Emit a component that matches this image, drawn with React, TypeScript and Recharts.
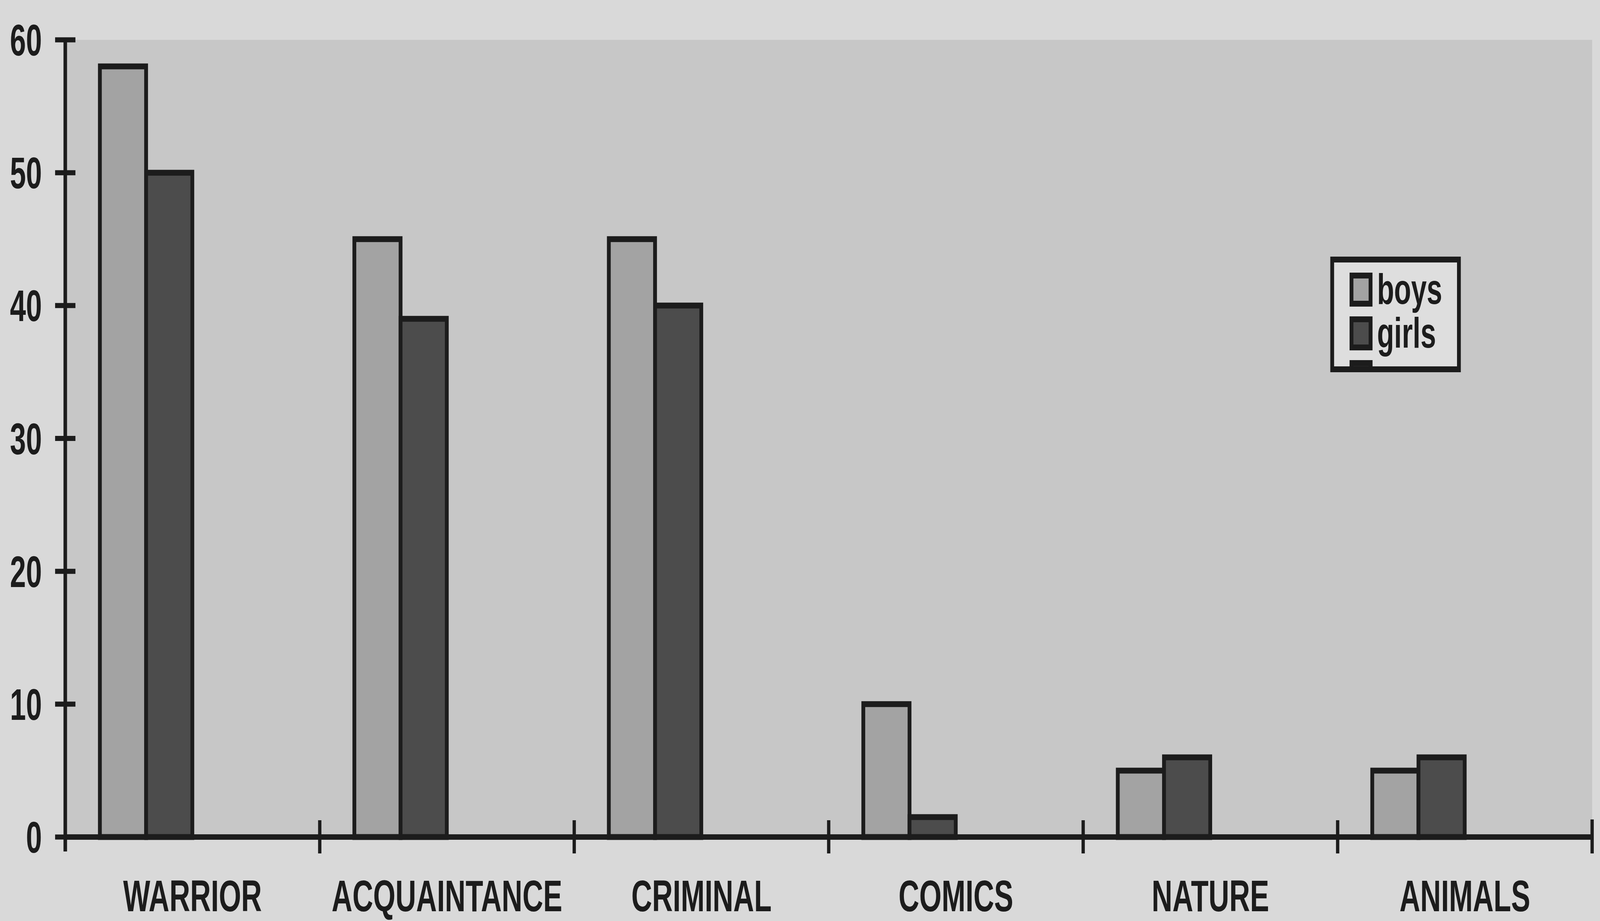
import { BarChart, Bar, XAxis, YAxis, CartesianGrid, Legend } from "recharts"

// values
const categories = ["WARRIOR", "ACQUAINTANCE", "CRIMINAL", "COMICS", "NATURE", "ANIMALS"]
const boys = [58, 45, 45, 10, 5, 5]
const girls = [50, 39, 40, 1.5, 6, 6]
// the original had two more (empty) series slots, which is why the bars sit left in each group
const series3 = [null, null, null, null, null, null]
const series4 = [null, null, null, null, null, null]
const yTicks = [0, 10, 20, 30, 40, 50, 60]

const legendNames = ["boys", "girls", ""]
const legendFills = ["#a3a3a3", "#4c4c4c", "#2a2a2a"]

const data = categories.map((name, i) => ({
 name,
 boys: boys[i],
 girls: girls[i],
 s3: series3[i],
 s4: series4[i]
}))

const W = 6300
const H = 2358
const INK = "#1c1c1c"
const FONT = "'Liberation Sans', Arial, Helvetica, sans-serif"
const FS = 113
const X_MARGIN = 110
const Y_MARGIN = 92

const XTick = (props: any) => {
 const { x, y, payload, index, width } = props
 const half = payload.offset || width / categories.length / 2
 const axisY = y - X_MARGIN
 return (
  <g>
   {index > 0 && (
    <line x1={x - half} x2={x - half} y1={axisY - 43} y2={axisY + 42} stroke={INK} strokeWidth={13} />
   )}
   {index === categories.length - 1 && (
    <line x1={x + half} x2={x + half} y1={axisY - 45} y2={axisY + 42} stroke={INK} strokeWidth={13} />
   )}
   <text x={x} y={y} dy="0.71em" textAnchor="middle" fill={INK} fontFamily={FONT} fontWeight="bold" fontSize={FS}>
    {payload.value}
   </text>
  </g>
 )
}

const YTick = (props: any) => {
 const { x, y, payload } = props
 const axisX = x + Y_MARGIN
 return (
  <g>
   <line x1={axisX - 40} x2={axisX + 40} y1={y} y2={y} stroke={INK} strokeWidth={13} />
   {payload.value === 0 && (
    <line x1={axisX} x2={axisX} y1={y} y2={y + 37} stroke={INK} strokeWidth={14} />
   )}
   <text x={x} y={y} dy="0.355em" textAnchor="end" fill={INK} fontFamily={FONT} fontWeight="bold" fontSize={FS}>
    {payload.value}
   </text>
  </g>
 )
}

const LegendBox = () => (
 <div
  style={{
   width: 514,
   height: 296,
   boxSizing: "border-box",
   border: `15px solid ${INK}`,
   background: "#dedede",
   overflow: "hidden",
   paddingTop: 26,
   paddingLeft: 61
  }}
 >
  {legendNames.map((n, i) => (
   <div key={i} style={{ display: "flex", alignItems: "flex-start", height: 112 }}>
    <div
     style={{
      width: 90,
      height: 87,
      boxSizing: "border-box",
      border: `15px solid ${INK}`,
      background: legendFills[i],
      flexShrink: 0
     }}
    />
    <span
     style={{
      marginLeft: 18,
      fontFamily: FONT,
      fontWeight: "bold",
      fontSize: 110,
      lineHeight: "104px",
      color: INK,
      position: "relative",
      top: -10
     }}
    >
     {n}
    </span>
   </div>
  ))}
 </div>
)

export default function App() {
 // fit the fixed-size chart into whatever viewport the page actually gets
 const vw = typeof window !== "undefined" ? window.innerWidth || W : W
 const vh = typeof window !== "undefined" ? window.innerHeight || H : H
 const sx = vw / W
 const sy = vh / H

 return (
  <div style={{ position: "fixed", left: 0, top: 0, width: vw, height: vh, overflow: "hidden", background: "#d9d9d9" }}>
   <div
    style={{
     position: "absolute",
     left: 0,
     top: 0,
     width: W,
     height: H,
     transform: `scale(${sx}, ${sy})`,
     transformOrigin: "0 0"
    }}
   >
    <BarChart
     width={W}
     height={H}
     data={data}
     margin={{ top: 102, right: 31, left: 0, bottom: 0 }}
     barCategoryGap="13.6%"
     barGap={0}
    >
     <CartesianGrid fill="#c7c7c7" stroke="none" horizontal={false} vertical={false} />
     <XAxis
      dataKey="name"
      height={215}
      axisLine={{ stroke: INK, strokeWidth: 14 }}
      tickLine={false}
      tickSize={0}
      tickMargin={X_MARGIN}
      tick={<XTick />}
      interval={0}
     />
     <YAxis
      width={257}
      domain={[0, 60]}
      ticks={yTicks}
      axisLine={{ stroke: INK, strokeWidth: 14 }}
      tickLine={false}
      tickSize={0}
      tickMargin={Y_MARGIN}
      tick={<YTick />}
     />
     <Legend
      layout="horizontal"
      verticalAlign="middle"
      align="center"
      content={() => <LegendBox />}
      wrapperStyle={{ left: 5238, top: 657, width: 514, height: 296 }}
     />
     <Bar dataKey="boys" name="boys" fill="#a3a3a3" stroke={INK} strokeWidth={15} isAnimationActive={false} />
     <Bar dataKey="girls" name="girls" fill="#4c4c4c" stroke={INK} strokeWidth={15} isAnimationActive={false} />
     <Bar dataKey="s3" name="" fill="transparent" stroke="none" legendType="none" isAnimationActive={false} />
     <Bar dataKey="s4" name="" fill="transparent" stroke="none" legendType="none" isAnimationActive={false} />
    </BarChart>
   </div>
  </div>
 )
}
